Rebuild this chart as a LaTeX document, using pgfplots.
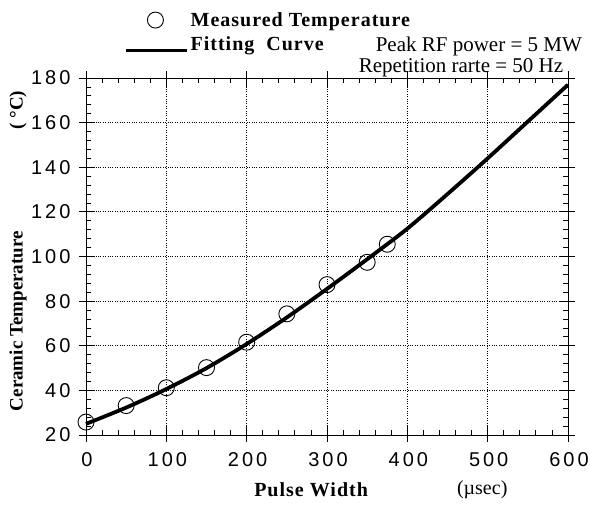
\documentclass[border=0pt]{standalone}
\usepackage{fontspec}
\setmainfont{Liberation Serif}
\newfontfamily\ticksf[LetterSpace=15]{Liberation Sans}
\newfontfamily\labsf[LetterSpace=5]{Liberation Serif}
\usepackage{pgfplots}
\pgfplotsset{compat=1.18}
\pgfplotsset{
    circlegend/.style={legend image code/.code={\draw[##1] plot coordinates {(29pt,0pt)};}},
    linelegend/.style={legend image code/.code={\draw[black, line width=2.4pt] (0pt,-6pt) -- (61pt,-6pt);}},
}

\begin{document}
\begin{tikzpicture}
\begin{axis}[
    scale only axis,
    width=482pt, height=357pt,
    xmin=0, xmax=600, ymin=20, ymax=180,
    xtick={0,100,...,600}, ytick={20,40,...,180},
    minor x tick num=4, minor y tick num=4,
    tick align=inside,
    major tick length=9pt, minor tick length=5pt,
    tick style={black, line width=0.8pt},
    extra x ticks={0,100,...,600}, extra y ticks={20,40,...,180},
    extra x tick labels={}, extra y tick labels={},
    extra tick style={tick align=outside, major tick length=7pt, grid=none},
    grid=major, grid style={dotted, black, line width=0.9pt},
    axis line style={line width=0.9pt},
    /pgf/number format/assume math mode=true,
    ticklabel style={font=\ticksf\fontsize{20}{20}\selectfont},
    xticklabel style={yshift=-14pt, xshift=1pt},
    yticklabel style={xshift=-12pt},
    clip=false,
    legend style={at={(rel axis cs:0.081,1.19)}, anchor=north west,
        draw=none, fill=none, font=\labsf\bfseries\fontsize{20}{20}\selectfont,
        row sep=5pt, inner sep=0pt},
    legend cell align=left,
]
% measured points
\addplot[only marks, mark=o, mark size=8pt, line width=0.9pt, circlegend]
coordinates {
    (0,25.8) (50,33.2) (100,41.2) (150,50.2) (200,61.6)
    (250,74.3) (300,87.4) (350,97.4) (375,105.5)
};
\addlegendentry{Measured Temperature}
% fitting curve
\addplot[black, line width=3.8pt, smooth, linelegend]
coordinates {
    (0,25) (50,32.3) (100,40.6) (150,50) (200,60.8) (250,72.7)
    (300,85.5) (350,98.8) (400,112.5) (450,128) (500,144)
    (550,160.5) (600,177)
};
\addlegendentry{Fitting\ \ Curve}

\node[font=\fontsize{21}{21}\selectfont] at (rel axis cs:0.815,1.088) {Peak RF power = 5 MW};
\node[font=\fontsize{21}{21}\selectfont] at (rel axis cs:0.778,1.030) {Repetition rarte = 50 Hz};

\node[rotate=90, font=\bfseries\fontsize{19}{19}\selectfont] at (rel axis cs:-0.141,0.319) {Ceramic Temperature};
\node[rotate=90, font=\bfseries\fontsize{19}{19}\selectfont] at (rel axis cs:-0.141,0.91) {(~°C)};
\node[font=\labsf\bfseries\fontsize{20}{20}\selectfont] at (rel axis cs:0.467,-0.154) {Pulse Width};
\node[font=\fontsize{20}{20}\selectfont] at (rel axis cs:0.822,-0.154) {(µsec)};

\coordinate (bl) at (rel axis cs:-0.1784,-0.196);
\coordinate (tr) at (rel axis cs:1.0456,1.2185);
\end{axis}
\pgfresetboundingbox
\path (bl) rectangle (tr);
\end{tikzpicture}
\end{document}
